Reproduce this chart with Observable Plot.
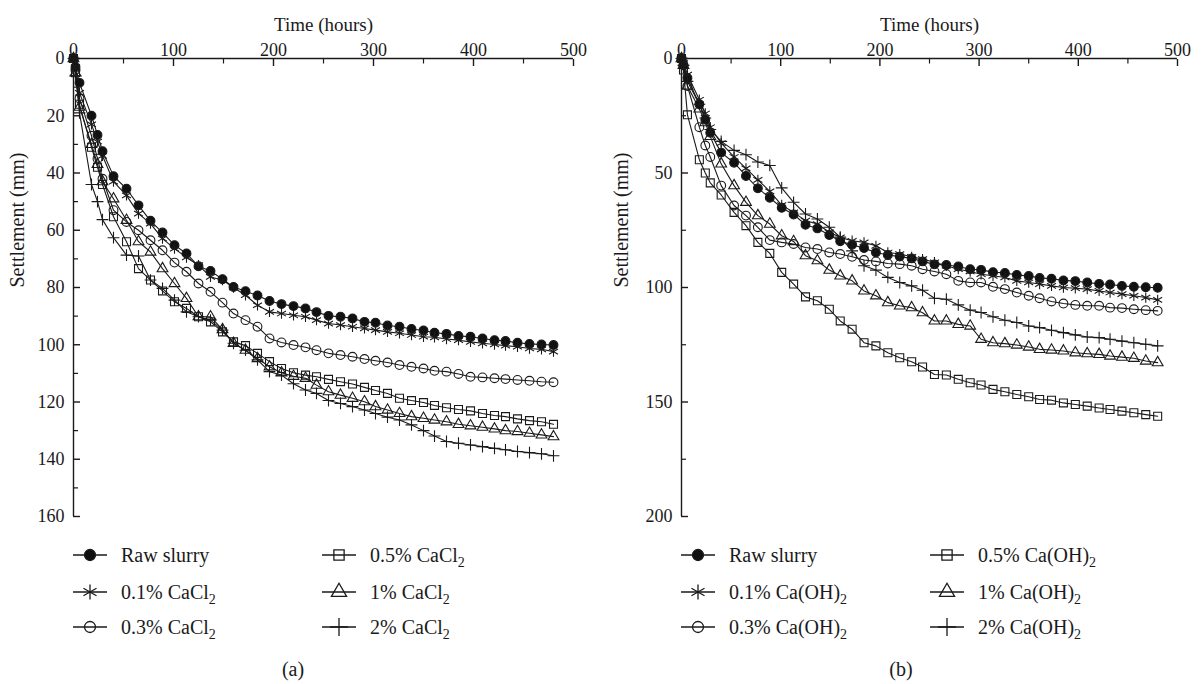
<!DOCTYPE html>
<html><head><meta charset="utf-8">
<script src="https://cdn.jsdelivr.net/npm/d3@7"></script>
<script src="https://cdn.jsdelivr.net/npm/@observablehq/plot@0.6"></script>
<style>
html,body{margin:0;padding:0;background:#fff;}
#root{position:relative;width:1202px;height:684px;overflow:hidden;font-family:"Liberation Serif","DejaVu Serif",serif;}
#root svg, #root svg text, #root svg g{font-family:"Liberation Serif","DejaVu Serif",serif !important;}
</style></head><body><div id="root"></div>
<script>
// ---- data (time in hours, settlement in mm) ----
const times = [0, 2, 6, 18, 24, 29, 40, 53, 65, 77, 89, 101, 113, 125, 137, 149, 160, 172, 184, 196, 208, 220, 232, 243, 255, 267, 279, 291, 302, 314, 326, 338, 350, 361, 373, 385, 397, 409, 421, 432, 444, 456, 468, 480];

const rawSlurry = [0, 3, 8.5, 20, 26.7, 32.4, 41.1, 45.5, 51.3, 56.7, 60.8, 65.2, 68.1, 72.6, 74.2, 77.1, 79.8, 81.3, 82.8, 84.7, 85.8, 86.5, 87.3, 88.6, 89.9, 90.2, 90.8, 92.0, 92.3, 93.3, 93.7, 94.5, 95.0, 95.8, 96.2, 96.9, 97.2, 97.8, 98.4, 98.7, 99.3, 99.7, 99.9, 100.1];

const cacl2_01 = [0, 3, 12, 23, 29, 34, 43, 47.8, 54.2, 57.7, 62.9, 66.4, 69.5, 72.2, 76.3, 77.4, 80, 82.7, 86.2, 88.5, 89.1, 89.7, 90.2, 91.4, 92.6, 93.1, 93.7, 94.3, 94.9, 95.5, 96, 96.6, 97.2, 97.4, 98, 98.4, 99, 99.5, 99.9, 100.3, 100.7, 101.3, 101.6, 102.4];
const cacl2_03 = [0, 4, 14, 27, 35, 42, 53, 57.1, 60, 63.5, 67, 71.3, 74.5, 78.6, 81.5, 85.3, 89.1, 91.4, 93.7, 97.8, 99.2, 100.1, 100.9, 101.9, 103, 103.6, 104.2, 105, 105.6, 106.2, 107.1, 107.7, 108.3, 109.1, 109.4, 110.2, 111.2, 111.4, 111.7, 112, 112.3, 112.6, 112.9, 113.1];
const cacl2_05 = [0, 5, 16, 31, 38, 44, 55.3, 64, 73.4, 77.4, 81.2, 85, 87.3, 90.2, 92, 95.5, 99, 100.3, 103, 105.9, 108.3, 109.8, 110.6, 111.2, 112.1, 112.9, 113.7, 114.9, 116, 117, 118.7, 119.5, 120.2, 121.2, 122, 122.6, 123.1, 124, 124.7, 125.1, 125.9, 126.5, 126.9, 127.8];
const cacl2_1 = [0, 5, 17, 30, 37, 43, 49, 56.5, 64, 67.6, 73.4, 78.6, 83.8, 90.2, 90.2, 94.7, 99.5, 101.9, 104.8, 107.7, 109.8, 111, 111.7, 114.1, 116.4, 117.6, 118.7, 119.9, 121.6, 122.8, 124, 125.1, 125.7, 126.3, 126.9, 127.8, 128.3, 128.8, 129.4, 130, 130.3, 130.9, 131.5, 132.1];
const cacl2_2 = [0, 6, 19, 44, 50, 56.3, 62.6, 68.7, 69, 77.4, 80.3, 84.4, 88.5, 90.2, 91.4, 94.9, 99.5, 101.9, 105.3, 109.4, 110.6, 113.6, 115.8, 117, 119.5, 120.5, 121.6, 122.8, 124, 125.3, 126.3, 128, 130, 131.9, 133.8, 134.4, 135, 135.6, 136.2, 136.7, 137.3, 137.7, 138.1, 138.8];

const caoh_01 = [0, 2, 7, 18, 24, 30, 37, 43, 48, 53, 58, 64, 67.2, 70.8, 72.3, 75.9, 78.1, 79.6, 80.3, 81.8, 84.7, 85.4, 86.6, 87.6, 89, 90.5, 92, 93, 94.2, 94.9, 95.6, 97.1, 97.8, 98.5, 99.3, 100, 100.3, 100.7, 101.5, 102.2, 102.9, 103.6, 104.4, 105.4];
const caoh_03 = [0, 3, 12, 30, 38, 43, 55.5, 64.2, 68.6, 73.7, 79.3, 80.3, 81, 82.5, 83.2, 84.7, 85.4, 86.6, 88, 88.6, 89.5, 89.8, 90.5, 92, 93, 94.2, 97.1, 97.8, 97.8, 99.7, 100.7, 102.2, 103.6, 104.7, 106.1, 107, 107.6, 108, 108, 108.8, 109, 109.5, 109.9, 110.2];
const caoh_05 = [0, 5, 24.6, 44.2, 50, 54.3, 59.6, 67.2, 73, 80.3, 85.1, 93.4, 98.5, 104.1, 105.8, 109.5, 114.6, 118.2, 124.1, 125.5, 128.5, 130.7, 132.4, 134.7, 138, 138.2, 140.1, 141.6, 142.6, 144.5, 145.5, 146.7, 147.7, 148.9, 149.2, 150.4, 151.1, 151.8, 152.6, 153.3, 154, 154.7, 155.5, 156.2];
const caoh_1 = [0, 3, 12, 22, 28, 34, 46, 55.5, 62.8, 68.6, 72.3, 77.4, 79.9, 86.1, 88.3, 92.4, 94.9, 97.1, 101.5, 103.6, 106.6, 108, 108.8, 111, 114.6, 114.6, 116.1, 116.8, 122.6, 124.1, 124.5, 125.1, 126, 127, 127.3, 127.7, 128.5, 128.9, 129.2, 129.9, 130.4, 130.9, 132.1, 132.8];
const caoh_2 = [0, 3, 10, 20, 26, 31, 36.2, 40.1, 42, 45.2, 46.7, 56.5, 62.8, 67.9, 70.1, 73.7, 78, 84, 90.5, 92.4, 95.6, 97.8, 99.3, 101.2, 104.7, 105.1, 107.6, 109.9, 110.9, 112.8, 114.3, 115.3, 116.8, 117.5, 118.7, 119.7, 120.7, 121.6, 121.9, 122.6, 123.4, 124.1, 124.8, 125.5];

const labelsA = ["Raw slurry", "0.1% CaCl|2", "0.3% CaCl|2", "0.5% CaCl|2", "1% CaCl|2", "2% CaCl|2"];
const labelsB = ["Raw slurry", "0.1% Ca(OH)|2", "0.3% Ca(OH)|2", "0.5% Ca(OH)|2", "1% Ca(OH)|2", "2% Ca(OH)|2"];

const xMajor = [0, 100, 200, 300, 400, 500];
const xMinor = [50, 150, 250, 350, 450];
const yMajorA = [0, 20, 40, 60, 80, 100, 120, 140, 160];
const yMinorA = [10, 30, 50, 70, 90, 110, 130, 150];
const yMajorB = [0, 50, 100, 150, 200];
const yMinorB = [25, 75, 125, 175];

// marker styles
const styles = [
  {symbol: "circle", r: 4.4, fill: "#111", d3sym: d3.symbolCircle, lsize: 95},
  {symbol: "asterisk", r: 4.9, fill: "none", d3sym: d3.symbolAsterisk, lsize: 160},
  {symbol: "circle", r: 4.4, fill: "none", d3sym: d3.symbolCircle, lsize: 95},
  {symbol: "square", r: 4.5, fill: "none", d3sym: d3.symbolSquare, lsize: 105},
  {symbol: "triangle", r: 4.0, fill: "none", d3sym: d3.symbolTriangle, lsize: 100},
  {symbol: "plus", r: 3.9, fill: "none", d3sym: d3.symbolPlus, lsize: 110}
];

const FONT = "'Liberation Serif', 'DejaVu Serif', serif";
const INK = "#1a1a1a";
const root = document.getElementById("root");

function makePanel(cfg) {
  const marks = [];
  cfg.series.forEach((vals) => {
    const d = times.map((t, i) => ({t, v: vals[i]}));
    marks.push(Plot.line(d, {x: "t", y: "v", stroke: INK, strokeWidth: 1.1}));
  });
  cfg.series.forEach((vals, k) => {
    const d = times.map((t, i) => ({t, v: vals[i]}));
    const s = styles[k];
    marks.push(Plot.dot(d, {x: "t", y: "v", symbol: s.symbol, r: s.r, fill: s.fill, stroke: INK, strokeWidth: 1.1}));
  });
  marks.push(
    Plot.ruleY([0], {stroke: INK, strokeWidth: 1.4}),
    Plot.ruleX([0], {stroke: INK, strokeWidth: 1.4}),
    Plot.axisX({anchor: "top", ticks: xMajor, tickSize: 7, dy: 7, fill: "none", stroke: INK, strokeWidth: 1.4, label: null}),
    Plot.axisX({anchor: "top", ticks: xMinor, tickSize: 4.5, dy: 4.5, fill: "none", stroke: INK, strokeWidth: 1.2, label: null}),
    Plot.axisY({anchor: "left", ticks: cfg.yMajor, tickSize: 7, dx: 7, fill: "none", stroke: INK, strokeWidth: 1.4, label: null}),
    Plot.axisY({anchor: "left", ticks: cfg.yMinor, tickSize: 5, dx: 5, fill: "none", stroke: INK, strokeWidth: 1.2, label: null}),
    Plot.text(xMajor, {x: d => d, text: d => String(d), frameAnchor: "top", dy: -15, fontSize: 18, fill: INK}),
    Plot.text(cfg.yMajor, {y: d => d, text: d => String(d), frameAnchor: "left", dx: -9, textAnchor: "end", fontSize: 18, fill: INK}),
    Plot.text(["Time (hours)"], {text: d => d, frameAnchor: "top", dy: -41, fontSize: 19, fill: INK}),
    Plot.text(["Settlement (mm)"], {text: d => d, frameAnchor: "left", rotate: -90, dx: cfg.ylabelDx, fontSize: 20, fill: INK})
  );
  const svg = Plot.plot({
    width: 601, height: 530,
    marginTop: 58, marginBottom: 14, marginLeft: cfg.marginLeft, marginRight: cfg.marginRight,
    x: {domain: [0, 500], axis: null},
    y: {domain: cfg.yDomain, reverse: true, axis: null},
    style: {background: "transparent", overflow: "visible", color: INK},
    marks
  });
  svg.style.position = "absolute";
  svg.style.left = cfg.left + "px";
  svg.style.top = "0px";
  svg.style.fontFamily = FONT;
  d3.select(svg).selectAll("text, g").style("font-family", FONT);
  root.appendChild(svg);
}

makePanel({series: [rawSlurry, cacl2_01, cacl2_03, cacl2_05, cacl2_1, cacl2_2], yDomain: [0, 160], yMajor: yMajorA, yMinor: yMinorA, marginLeft: 73, marginRight: 28, left: 0, ylabelDx: -56});
makePanel({series: [rawSlurry, caoh_01, caoh_03, caoh_05, caoh_1, caoh_2], yDomain: [0, 200], yMajor: yMajorB, yMinor: yMinorB, marginLeft: 80, marginRight: 25, left: 601, ylabelDx: -60});

// ---- legends and captions ----
const leg = d3.select(root).append("svg")
  .attr("width", 1202).attr("height", 154)
  .style("position", "absolute").style("left", "0px").style("top", "530px")
  .style("font-family", FONT);

const rowsY = [25, 62, 97];
function legend(labels, x0, caption) {
  labels.forEach((lab, k) => {
    const col = Math.floor(k / 3), row = k % 3;
    const lx = x0 + col * 249;
    const cy = rowsY[row];
    const s = styles[k];
    const g = leg.append("g");
    g.append("line").attr("x1", lx).attr("x2", lx + 34).attr("y1", cy).attr("y2", cy)
      .attr("stroke", INK).attr("stroke-width", 1.3);
    g.append("path").attr("d", d3.symbol(s.d3sym, s.lsize)())
      .attr("transform", `translate(${lx + 17},${cy})`)
      .attr("fill", s.fill).attr("stroke", INK).attr("stroke-width", 1.3);
    const [main, sub] = lab.split("|");
    const t = g.append("text").attr("x", lx + 48).attr("y", cy + 7)
      .attr("font-size", 20).attr("fill", INK).text(main);
    if (sub) t.append("tspan").attr("dy", 5).attr("font-size", 14).text(sub);
  });
  leg.append("text").attr("x", caption[1]).attr("y", 146).attr("text-anchor", "middle")
    .attr("font-size", 20).attr("fill", INK).text(caption[0]);
}
legend(labelsA, 73, ["(a)", 293]);
legend(labelsB, 681, ["(b)", 901]);
</script></body></html>
